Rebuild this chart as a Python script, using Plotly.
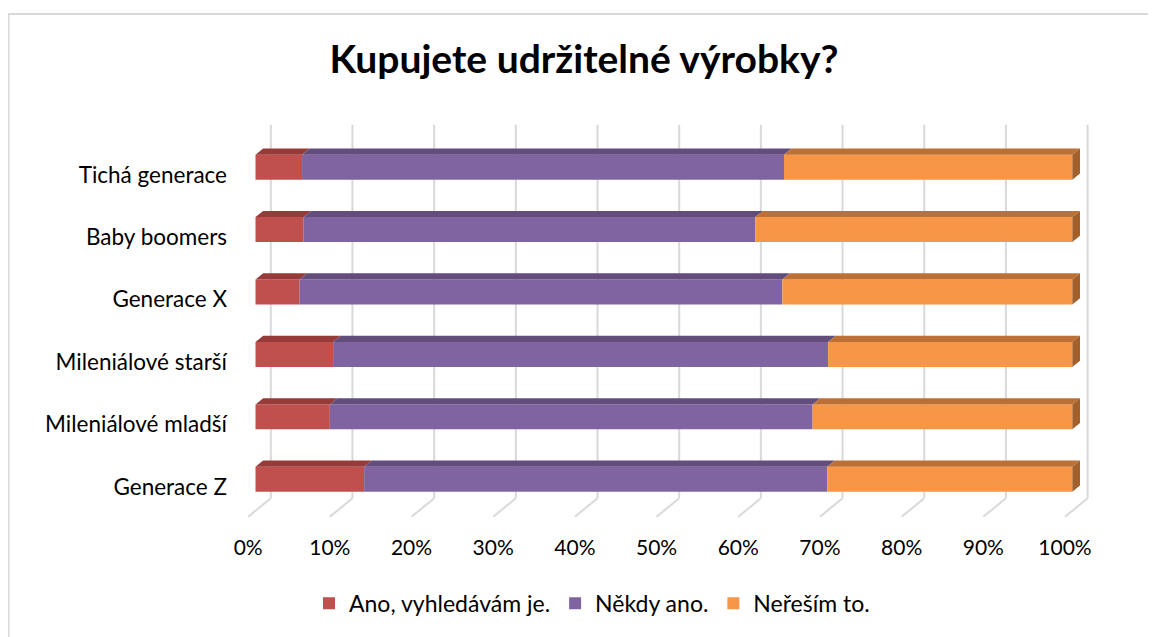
import plotly.graph_objects as go

# ---- data (bottom to top) ----
categories = ["Generace Z", "Mileniálové mladší", "Mileniálové starší",
              "Generace X", "Baby boomers", "Tichá generace"]
ano = [13.3, 9.1, 9.5, 5.4, 5.9, 5.7]
nekdy = [56.7, 59.1, 60.6, 59.1, 55.3, 59.0]
neresim = [30.0, 31.8, 29.9, 35.5, 38.8, 35.3]
series_names = ["Ano, vyhledávám je.", "Někdy ano.", "Neřeším to."]
x_ticks = [0, 10, 20, 30, 40, 50, 60, 70, 80, 90, 100]
x_tick_labels = [f"{t}%" for t in x_ticks]

# ---- style ----
FONT = "Lato"
front_cols = ["#C0504D", "#8064A2", "#F79646"]
top_cols = ["#963B39", "#634D7D", "#BD7035"]
side_col = "#A3602A"
BAR_W = 0.4
DX, DY = 0.94, 0.10          # depth offset of 3D bars
WALL_DX, FLOOR_DX = 1.87, -0.9
FLOOR_BACK, FLOOR_FRONT, WALL_TOP = -0.305, -0.6, 5.68

# page has an 8px body margin, so the figure is 8px smaller
W, H = 1148, 629
ML, MR, MT, MB = 223, 51, 103, 110

fig = go.Figure()
ys = list(range(len(categories)))
series = [ano, nekdy, neresim]

# front faces (stacked bars)
bases = [0.0] * len(categories)
seg_bounds = []
for name, vals, col in zip(series_names, series, front_cols):
    fig.add_trace(go.Bar(
        y=ys, x=vals, base=bases, orientation="h", width=BAR_W,
        name=name, marker=dict(color=col, line=dict(width=0)),
        hoverinfo="skip"))
    seg_bounds.append([(b, b + v) for b, v in zip(bases, vals)])
    bases = [b + v for b, v in zip(bases, vals)]

# top faces and right side face
for si, bounds in enumerate(seg_bounds):
    for yi, (x0, x1) in zip(ys, bounds):
        yt = yi + BAR_W / 2
        fig.add_trace(go.Scatter(
            x=[x0, x1, x1 + DX, x0 + DX, x0],
            y=[yt, yt, yt + DY, yt + DY, yt],
            fill="toself", fillcolor=top_cols[si], mode="none",
            showlegend=False, hoverinfo="skip"))
        if si == len(seg_bounds) - 1:
            yb = yi - BAR_W / 2
            fig.add_trace(go.Scatter(
                x=[x1, x1 + DX, x1 + DX, x1, x1],
                y=[yb, yb + DY, yt + DY, yt, yb],
                fill="toself", fillcolor=side_col, mode="none",
                showlegend=False, hoverinfo="skip"))

# back-wall gridlines + floor lines (below bars)
shapes = []
for t in x_ticks:
    shapes.append(dict(type="line", xref="x", yref="y", layer="below",
                       x0=t + WALL_DX, x1=t + WALL_DX, y0=FLOOR_BACK, y1=WALL_TOP,
                       line=dict(color="#D9D9D9", width=2)))
    shapes.append(dict(type="line", xref="x", yref="y", layer="below",
                       x0=t + WALL_DX, x1=t + FLOOR_DX, y0=FLOOR_BACK, y1=FLOOR_FRONT,
                       line=dict(color="#D9D9D9", width=2)))

# chart border (top and left edges visible)
pw, ph = W - ML - MR, H - MT - MB
shapes.append(dict(type="rect", xref="paper", yref="paper", layer="below",
                   x0=(0.5 - ML) / pw, x1=(W + 10 - ML) / pw,
                   y0=(H - MB - (H + 10)) / ph, y1=(H - MB - 5) / ph,
                   line=dict(color="#D9D9D9", width=2), fillcolor="rgba(0,0,0,0)"))

fig.update_layout(
    width=W, height=H,
    margin=dict(l=ML, r=MR, t=MT, b=MB),
    paper_bgcolor="white", plot_bgcolor="white",
    barmode="overlay",
    shapes=shapes,
    title=dict(text="<b>Kupujete udržitelné výrobky?</b>", x=576 / W, xanchor="center",
               xref="container",
               y=(H - 51) / H, yanchor="middle",
               font=dict(family=FONT, size=39, color="#000000")),
    xaxis=dict(range=[-3, 104], showgrid=False, zeroline=False, showline=False,
               tickvals=[t + FLOOR_DX for t in x_ticks], ticktext=x_tick_labels,
               ticks="outside", ticklen=6, tickcolor="rgba(0,0,0,0)",
               tickfont=dict(family=FONT, size=21, color="#000000"), fixedrange=True),
    yaxis=dict(range=[-0.7, 5.9], showgrid=False, zeroline=False, showline=False,
               tickvals=[y - 0.12 for y in ys], ticktext=categories,
               ticks="", ticklabelstandoff=3,
               tickfont=dict(family=FONT, size=22.5, color="#000000"),
               fixedrange=True),
    legend=dict(orientation="h", x=(584 - ML) / pw, xanchor="center", xref="paper",
                y=(H - MB - 600) / ph, yanchor="middle",
                font=dict(family=FONT, size=23, color="#000000"),
                itemclick=False, itemdoubleclick=False),
    showlegend=True,
)

fig.write_html("out.html")
